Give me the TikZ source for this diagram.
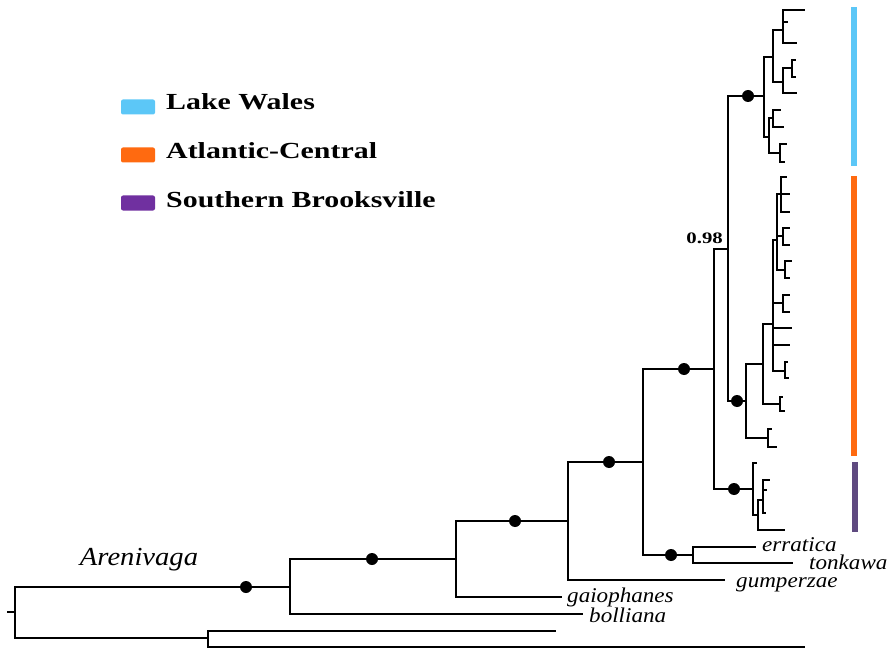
\documentclass[tikz,border=0pt]{standalone}
\usepackage{fontspec}
\setmainfont{Liberation Serif}
\newfontfamily\legfont[FakeStretch=1.3]{Liberation Serif}
\newfontfamily\labfont[FakeStretch=1.1]{Liberation Serif}
\definecolor{lwblue}{RGB}{92,199,247}
\definecolor{acorange}{RGB}{255,106,16}
\definecolor{sbpurple}{RGB}{112,48,160}
\definecolor{sbbar}{RGB}{95,74,128}
\newcommand\tipto[3]{\coordinate (#2) at (#3); \draw[br] (#1) |- (#2);}
\begin{document}
\begin{tikzpicture}[x=1pt,y=-1pt,
  br/.style={line width=1.8pt},
  dotmark/.style={circle,fill=black,inner sep=0pt,minimum size=12pt},
  legbox/.style={rounded corners=2pt,minimum width=34pt,minimum height=15pt,inner sep=0pt},
  legtext/.style={anchor=mid west,inner sep=0pt,font=\legfont\bfseries\fontsize{23}{27}\selectfont},
  sptext/.style={anchor=base west,inner sep=0pt,font=\labfont\itshape\fontsize{21}{25}\selectfont},
  bar/.style={inner sep=0pt}]
\useasboundingbox (0,0) rectangle (892,650);
% root
\coordinate (rs) at (7,612);
\coordinate (r) at (15,612);
\draw[br] (rs) -- (r);
\tipto{r}{n1}{290,587}
\tipto{r}{n0}{208,638}
\tipto{n0}{tA}{556,631}
\tipto{n0}{tB}{805,647}
\tipto{n1}{n2}{456,559}
\tipto{n1}{tbol}{583,614}
\tipto{n2}{n3}{568,521}
\tipto{n2}{tgai}{562,597}
\tipto{n3}{n4}{643,462}
\tipto{n3}{tgum}{725,580}
\tipto{n4}{n5}{714,369}
\tipto{n4}{n6}{693,555}
\tipto{n6}{terr}{756,547}
\tipto{n6}{tton}{793,563}
\tipto{n5}{n7}{728,249}
\tipto{n5}{sb}{753,489}
\tipto{n7}{lw}{764,96}
\tipto{n7}{ac}{746,401}
% Lake Wales clade
\tipto{lw}{a1}{773,57}
\tipto{lw}{a2}{769,137}
\tipto{a1}{a11}{783,30}
\tipto{a1}{a12}{783,82}
\tipto{a11}{l1}{805,10}
\tipto{a11}{l2}{788,22}
\tipto{a11}{l3}{797,43}
\tipto{a12}{a121}{792,68}
\tipto{a12}{l4}{797,93}
\tipto{a121}{l5}{796,60}
\tipto{a121}{l6}{796,77}
\tipto{a2}{a21}{773,118}
\tipto{a2}{a22}{780,153}
\tipto{a21}{l7}{781,110}
\tipto{a21}{l8}{784,127}
\tipto{a22}{l9}{787,144}
\tipto{a22}{l10}{785,162}
% Atlantic-Central clade
\tipto{ac}{c1}{763,364}
\tipto{ac}{c2}{768,438}
\tipto{c2}{m1}{772,429}
\tipto{c2}{m2}{777,447}
\tipto{c1}{c11}{773,324}
\tipto{c1}{c12}{780,404}
\tipto{c12}{m3}{783,397}
\tipto{c12}{m4}{785,411}
\tipto{c11}{c111}{777,240}
\tipto{c11}{c112}{783,303}
\tipto{c11}{m5}{792,328}
\tipto{c11}{m6}{790,345}
\tipto{c11}{c113}{785,371}
\tipto{c113}{m7}{788,362}
\tipto{c113}{m8}{789,378}
\tipto{c112}{m9}{790,295}
\tipto{c112}{m10}{790,312}
\tipto{c111}{c1111}{781,194}
\tipto{c111}{c1112}{783,236}
\tipto{c111}{c1113}{785,270}
\tipto{c1111}{m11}{787,177}
\tipto{c1111}{m12}{790,194}
\tipto{c1111}{m13}{790,212}
\tipto{c1112}{m14}{790,228}
\tipto{c1112}{m15}{790,245}
\tipto{c1113}{m16}{792,261}
\tipto{c1113}{m17}{790,278}
% Southern Brooksville clade
\tipto{sb}{s0}{757,463}
\tipto{sb}{s1}{758,515}
\tipto{s1}{s2}{763,500}
\tipto{s1}{s3}{785,530}
\tipto{s2}{s4}{770,480}
\tipto{s2}{s5}{767,490}
\tipto{s2}{s6}{766,513}
% support dots
\node[dotmark] (d1) at (246,587) {};
\node[dotmark] (d2) at (372,559) {};
\node[dotmark] (d3) at (515,521) {};
\node[dotmark] (d4) at (609,462) {};
\node[dotmark] (d5) at (684,369) {};
\node[dotmark] (d6) at (671,555) {};
\node[dotmark] (d7) at (748,96) {};
\node[dotmark] (d8) at (737,401) {};
\node[dotmark] (d9) at (734,489) {};
% support value
\node[anchor=base east,inner sep=0pt,font=\legfont\bfseries\fontsize{16}{18}\selectfont] (pp) at (723,243) {0.98};
% labels
\node[anchor=base,inner sep=0pt,font=\labfont\itshape\fontsize{26}{30}\selectfont] (aren) at (139,565) {Arenivaga};
\node[sptext] (lgai) at (567,602) {gaiophanes};
\node[sptext] (lbol) at (589,622) {bolliana};
\node[sptext] (lerr) at (762,551) {erratica};
\node[sptext] (lton) at (809,569) {tonkawa};
\node[sptext] (lgum) at (736,587) {gumperzae};
% clade bars
\fill[lwblue] (851,7) rectangle (857,166);
\fill[acorange] (851,176) rectangle (857,456);
\fill[sbbar] (852,462) rectangle (858,532);
% legend
\node[legbox,fill=lwblue] (k1) at (138,107) {};
\node[legbox,fill=acorange] (k2) at (138,155) {};
\node[legbox,fill=sbpurple] (k3) at (138,203) {};
\node[legtext] (k1t) at (166,107) {Lake Wales};
\node[legtext] (k2t) at (166,156) {Atlantic-Central};
\node[legtext] (k3t) at (166,205) {Southern Brooksville};
\end{tikzpicture}
\end{document}
